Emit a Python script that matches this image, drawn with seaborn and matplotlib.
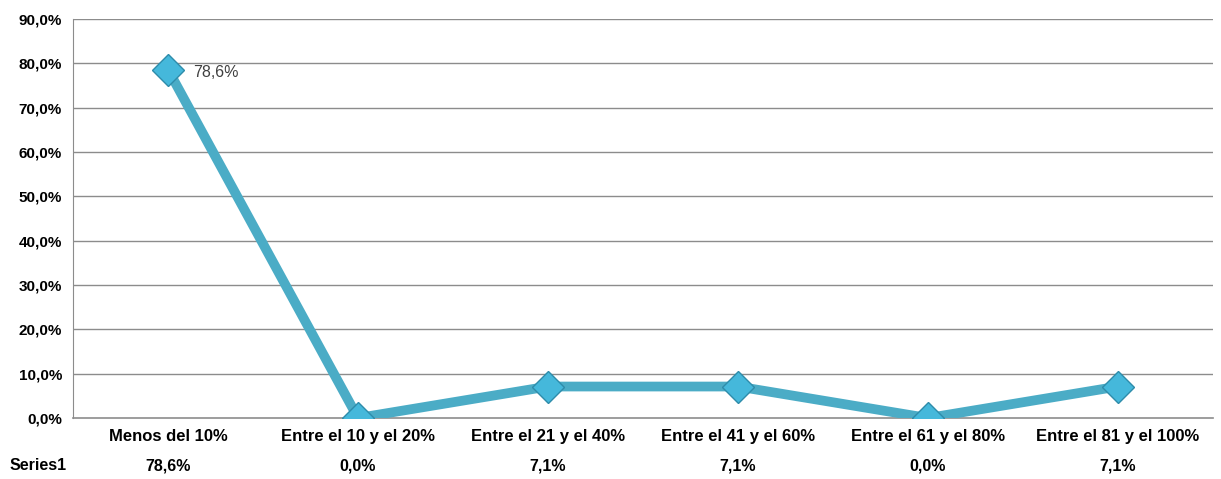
import pandas as pd
import matplotlib.pyplot as plt
import seaborn as sns

categories = ['Menos del 10%', 'Entre el 10 y el 20%', 'Entre el 21 y el 40%',
              'Entre el 41 y el 60%', 'Entre el 61 y el 80%', 'Entre el 81 y el 100%']
values = [78.6, 0.0, 7.1, 7.1, 0.0, 7.1]
series_name = 'Series1'
y_ticks = [0, 10, 20, 30, 40, 50, 60, 70, 80, 90]

def pct(v):
    return f'{v:.1f}%'.replace('.', ',')

sns.set_style('white')
plt.rcParams['font.family'] = ['Liberation Sans', 'DejaVu Sans']

df = pd.DataFrame({'pos': range(len(categories)), 'value': values})

fig = plt.figure(figsize=(12.21, 4.79), dpi=100)
ax = fig.add_axes([73 / 1221, 1 - 418 / 479, 1140 / 1221, 399 / 479])

for t in y_ticks[1:]:
    ax.axhline(t, color='#8c8c8c', lw=1.0, zorder=1)

sns.lineplot(data=df, x='pos', y='value', ax=ax, color='#4BACC6', lw=7,
             marker='D', markersize=16, markerfacecolor='#45B8DB',
             markeredgecolor='#2E8CAA', markeredgewidth=1.0, zorder=3)

ax.annotate(pct(values[0]), (0, values[0]), xytext=(18, -2), textcoords='offset points',
            va='center', ha='left', fontsize=11.5, color='#404040')

ax.set_xlim(-0.5, len(categories) - 0.5)
ax.set_ylim(0, 90)
ax.set_yticks(y_ticks)
ax.set_yticklabels([pct(t) for t in y_ticks], fontsize=11, fontweight='bold', color='black')
ax.set_xticks(range(len(categories)))
ax.set_xticklabels(categories, fontsize=12, fontweight='bold', color='black')
ax.tick_params(axis='x', length=0, pad=8)
ax.tick_params(axis='y', length=0, pad=8)
ax.set_xlabel('')
ax.set_ylabel('')

for side in ['top', 'right']:
    ax.spines[side].set_visible(False)
ax.spines['left'].set_color('#8c8c8c')
ax.spines['bottom'].set_color('#8c8c8c')
ax.spines['bottom'].set_linewidth(1.2)

# data table row
row_y = -0.12
ax.text(-63 / 1140, row_y, series_name, transform=ax.transAxes, ha='left', va='center',
        fontsize=11.5, fontweight='bold', color='black')
for i, v in enumerate(values):
    ax.text(i, row_y, pct(v), transform=ax.get_xaxis_transform(), ha='center', va='center',
            fontsize=11.5, fontweight='bold', color='black')

fig.savefig('out.png', dpi=100)
